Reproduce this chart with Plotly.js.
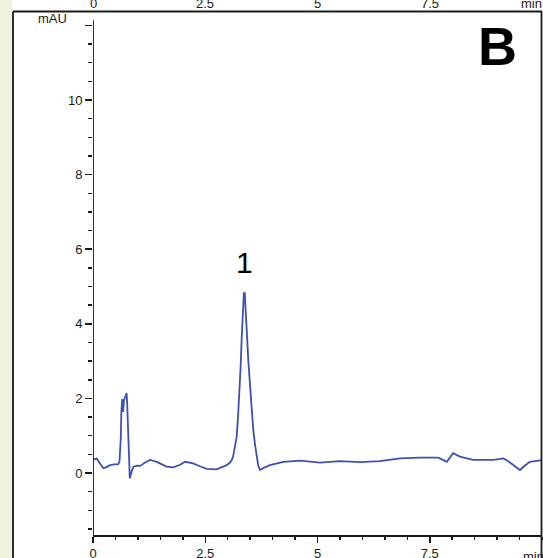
<!DOCTYPE html>
<html><head><meta charset="utf-8">
<script src="https://cdn.plot.ly/plotly-3.0.1.min.js"></script>
<style>html,body{margin:0;padding:0;background:#fff;}#chart{width:543px;height:558px;}</style>
</head><body><div id="chart"></div>
<script>
// Retention time (min) and absorbance (mAU)
var timeMin = [0.007,0.08,0.16,0.23,0.29,0.38,0.47,0.56,0.59,0.62,0.63,0.64,0.65,0.66,0.67,0.69,0.73,0.75,0.76,0.77,0.79,0.81,0.82,0.86,0.90,0.98,1.05,1.16,1.27,1.42,1.54,1.64,1.79,1.94,2.05,2.23,2.38,2.53,2.75,2.87,2.98,3.05,3.09,3.12,3.16,3.20,3.23,3.26,3.29,3.31,3.34,3.36,3.38,3.40,3.42,3.46,3.50,3.53,3.57,3.61,3.65,3.68,3.72,3.79,3.94,4.24,4.61,5.06,5.50,5.95,6.39,6.84,7.28,7.69,7.88,8.02,8.17,8.47,8.92,9.14,9.24,9.36,9.51,9.62,9.73,10.02];
var absorbance = [0.35,0.39,0.25,0.13,0.15,0.21,0.23,0.24,0.30,0.97,1.6,1.96,1.98,1.8,1.64,1.95,2.09,2.14,1.9,1.51,1.0,0.53,-0.14,0.04,0.17,0.20,0.19,0.28,0.35,0.30,0.22,0.17,0.15,0.22,0.30,0.26,0.18,0.11,0.10,0.15,0.21,0.28,0.35,0.44,0.70,0.97,1.5,2.05,2.9,3.57,4.4,4.82,4.82,4.3,3.65,3.0,2.31,1.7,1.15,0.75,0.44,0.2,0.08,0.13,0.21,0.30,0.33,0.28,0.32,0.29,0.32,0.39,0.41,0.41,0.30,0.53,0.44,0.35,0.35,0.39,0.32,0.21,0.08,0.2,0.30,0.35];
var xTickVals = [0,2.5,5,7.5];
var xTickText = ['0','2.5','5','7.5'];
var yTickVals = [0,2,4,6,8,10,12];
var yTickText = ['0','2','4','6','8','10',''];
var xUnit = 'min';
var yUnit = 'mAU';
var peakLabel = '1';
var peakTime = 3.37;
var panelLabel = 'B';

var ink = '#1a1a1a';
var fam = 'Liberation Sans, Arial, sans-serif';
var tickFont = {family:fam, size:13, color:ink};
var yMin = -1.662, yMax = 12.413;

var trace = {x: timeMin, y: absorbance, type:'scatter', mode:'lines',
  line:{color:'#3e50b4', width:1.8}, hoverinfo:'skip', showlegend:false};

var annotations = [
  {text:yUnit, xref:'paper', yref:'paper', x:-24/449, y:1-9/525, xanchor:'right', yanchor:'middle', showarrow:false, font:tickFont},
  {text:xUnit, xref:'paper', yref:'paper', x:1, y:-12/525, xanchor:'left', xshift:-21, yanchor:'top', showarrow:false, font:tickFont},
  {text:xUnit, xref:'paper', yref:'paper', x:1, y:1, xanchor:'left', xshift:-23, yanchor:'bottom', yshift:-3, showarrow:false, font:tickFont},
  {text:panelLabel, xref:'paper', yref:'paper', x:(497-93)/449, y:1-36/525, xanchor:'center', yanchor:'middle', showarrow:false,
    font:{family:fam, size:54, color:'#000', weight:'bold'}},
  {text:peakLabel, xref:'x', yref:'y', x:peakTime, y:(473-262)/37.3, xanchor:'center', yanchor:'middle', showarrow:false,
    font:{family:fam, size:30, color:'#000'}}
];
// top axis labels (cut off by the page edge like the reference)
xTickVals.forEach(function(v, i){
  annotations.push({text:xTickText[i], xref:'x', yref:'paper', x:v, y:1, xanchor:'center', yanchor:'bottom', yshift:-3, showarrow:false, font:tickFont});
});

var layout = {
  width:543, height:558,
  margin:{l:93, r:1, t:10, b:23, pad:0},
  paper_bgcolor:'#ffffff', plot_bgcolor:'#ffffff',
  showlegend:false,
  xaxis:{range:[0,10], tickmode:'array', tickvals:xTickVals, ticktext:xTickText,
    showgrid:false, zeroline:false, showline:true, linecolor:ink, linewidth:1.8,
    ticks:'outside', ticklen:6, tickwidth:1.5, tickcolor:ink, tickfont:tickFont,
    minor:{tickmode:'linear', tick0:0, dtick:0.5, ticks:'outside', ticklen:3, tickwidth:1.5, tickcolor:ink, showgrid:false}},
  yaxis:{range:[yMin,yMax], tickmode:'array', tickvals:yTickVals, ticktext:yTickText,
    showgrid:false, zeroline:false, showline:false,
    ticks:'outside', ticklen:7, tickwidth:1.5, tickcolor:ink, tickfont:tickFont,
    minor:{tickmode:'linear', tick0:0, dtick:0.5, ticks:'outside', ticklen:4, tickwidth:1.5, tickcolor:ink, showgrid:false}},
  shapes:[
    {type:'rect', xref:'paper', yref:'paper', x0:-93/449, x1:-81/449, y0:-23/525, y1:1+10/525, fillcolor:'#eef3dc', line:{width:0}, layer:'below'},
    {type:'line', xref:'paper', yref:'paper', x0:-80/449, x1:-80/449, y0:-23/525, y1:1-1.5/525, line:{color:ink, width:1.8}},
    {type:'line', xref:'paper', yref:'paper', x0:-80/449, x1:1, y0:1-1.5/525, y1:1-1.5/525, line:{color:ink, width:2}},
    {type:'line', xref:'paper', yref:'paper', x0:1-0.5/449, x1:1-0.5/449, y0:-23/525, y1:1-1.5/525, line:{color:ink, width:1.8}},
    {type:'line', xref:'x', yref:'y', x0:0, x1:0, y0:yMin, y1:12.14, line:{color:ink, width:1.8}}
  ],
  annotations: annotations
};
Plotly.newPlot('chart', [trace], layout, {staticPlot:true, displayModeBar:false});
</script></body></html>
